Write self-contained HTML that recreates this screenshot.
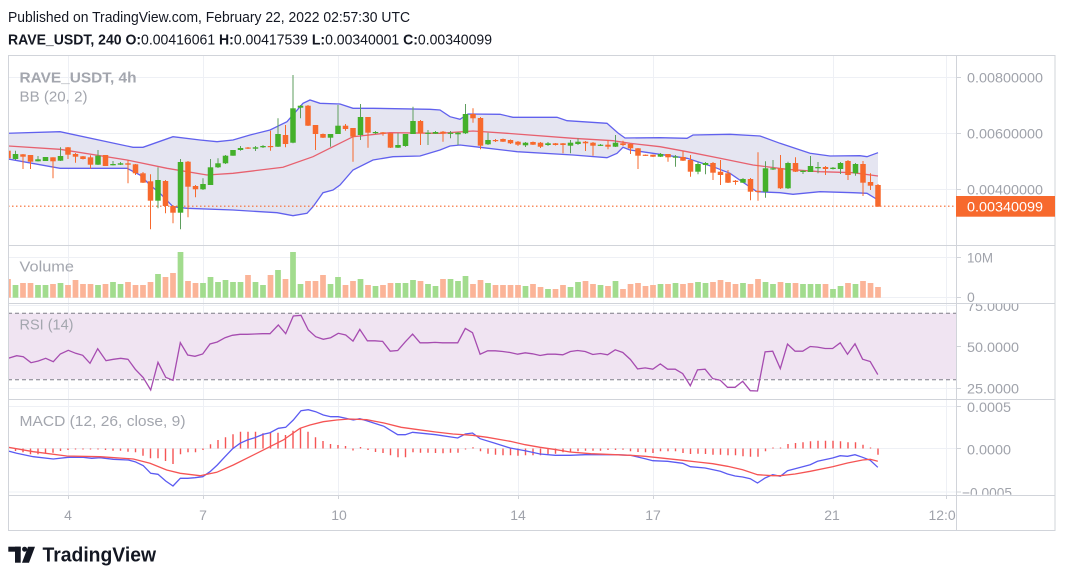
<!DOCTYPE html>
<html><head><meta charset="utf-8"><style>
html,body{margin:0;padding:0;background:#fff;}
svg{display:block;font-family:"Liberation Sans",sans-serif;}
.ax{font-size:14px;fill:#a0a3ab;}
.lg{font-size:15px;fill:#a3a6ae;}
</style></head><body>
<svg width="1065" height="578" viewBox="0 0 1065 578" xmlns="http://www.w3.org/2000/svg">
<defs>
<clipPath id="cm"><rect x="8.5" y="55.5" width="947.5" height="439.5"/></clipPath>
<clipPath id="cp"><rect x="957" y="55.5" width="98" height="189.5"/></clipPath>
<clipPath id="cv"><rect x="957" y="245.5" width="98" height="57.5"/></clipPath>
<clipPath id="cr"><rect x="957" y="303.8" width="98" height="95"/></clipPath>
<clipPath id="cd"><rect x="957" y="399.8" width="98" height="95"/></clipPath>
<clipPath id="ct"><rect x="8.5" y="495" width="947.5" height="36"/></clipPath>
</defs>
<rect width="1065" height="578" fill="#fff"/>
<text x="8" y="22" font-size="15" fill="#131722" textLength="402" lengthAdjust="spacingAndGlyphs">Published on TradingView.com, February 22, 2022 02:57:30 UTC</text>
<text x="8" y="44.5" font-size="15" fill="#131722" textLength="484" lengthAdjust="spacingAndGlyphs"><tspan font-weight="bold">RAVE_USDT, 240 O:</tspan>0.00416061 <tspan font-weight="bold">H:</tspan>0.00417539 <tspan font-weight="bold">L:</tspan>0.00340001 <tspan font-weight="bold">C:</tspan>0.00340099</text>

<g clip-path="url(#cm)">
<!-- grid -->
<g stroke="#eef0f5" stroke-width="1">
<path d="M68.5 55V495M203.5 55V495M338.5 55V495M518.5 55V495M653.5 55V495M833.5 55V495M946.5 55V495"/>
<path d="M8 77.5H956M8 133.5H956M8 189.5H956M8 257.5H956M8 297.5H956M8 305.5H956M8 346.5H956M8 388.5H956M8 406.5H956M8 448.5H956M8 492H956"/>
</g>
<!-- BB -->
<polygon fill="#e5e5f1" points="8,133.3 60,131.7 133,147.3 143,147.3 173,136.7 200,140 217,141.7 233,140 250,135 270,130 287,121.7 303,103.3 310,100 320,103.3 340,104 353,108.3 373,108.3 430,109.3 440,110 450,116.7 460,119.3 468,114 500,114.3 513,117.3 557,117.3 567,120.7 607,123.3 618,133 625,138 660,137.7 687,138.3 693,135 730,134.3 760,136 780,143.3 810,153.3 830,156 860,155.7 867,156.7 878,152.7 878,200 867,193.3 853,192.7 820,191.7 793,194.3 780,192.7 757,191.7 747,185 730,173.3 713,166.7 687,158.3 653,153.3 630,150 623,147.3 617,153.3 607,157.7 573,155 517,151.7 480,147.3 460,145 450,146 440,150 420,156 393,156.7 373,160 353,170 340,185 333,190 323,192.7 313,206.7 307,213.3 293,215.7 277,212.7 233,210 187,208.3 173,206.7 160,193.3 150,185 140,175 127,168.3 60,168.3 8,159"/>
<g fill="none" stroke-width="1.3">
<polyline stroke="#6161ee" points="8,133.3 60,131.7 133,147.3 143,147.3 173,136.7 200,140 217,141.7 233,140 250,135 270,130 287,121.7 303,103.3 310,100 320,103.3 340,104 353,108.3 373,108.3 430,109.3 440,110 450,116.7 460,119.3 468,114 500,114.3 513,117.3 557,117.3 567,120.7 607,123.3 618,133 625,138 660,137.7 687,138.3 693,135 730,134.3 760,136 780,143.3 810,153.3 830,156 860,155.7 867,156.7 878,152.7"/>
<polyline stroke="#6161ee" points="8,159 60,168.3 127,168.3 140,175 150,185 160,193.3 173,206.7 187,208.3 233,210 277,212.7 293,215.7 307,213.3 313,206.7 323,192.7 333,190 340,185 353,170 373,160 393,156.7 420,156 440,150 450,146 460,145 480,147.3 517,151.7 573,155 607,157.7 617,153.3 623,147.3 630,150 653,153.3 687,158.3 713,166.7 730,173.3 747,185 757,191.7 780,192.7 793,194.3 820,191.7 853,192.7 867,193.3 878,200"/>
<polyline stroke="#e7616f" points="8,146 60,149.3 127,160 167,168.3 207,175 233,173.3 283,167.3 313,156.7 333,146.7 353,136.7 390,132.7 440,133.3 473,131 507,133.3 573,138.3 613,140.7 630,143.3 660,146.7 687,151.7 720,158.3 753,165 787,169.3 820,171.7 853,172.7 878,176"/>
</g>
<!-- price line -->
<line x1="8" y1="206.2" x2="956" y2="206.2" stroke="#f7692d" stroke-width="1.2" stroke-dasharray="1.5,2.5"/>
<!-- wicks -->
<path fill="none" stroke="#5e9e5e" stroke-width="1" d="M15.5 150.7V160M38 156V161.5M45.5 157V161M60.5 147.3V161M98 150V165M113 161V165.5M120.5 162V165M158 167.3V208.3M180.5 159V229.3M203 178.3V190M210.5 159V185M218 158.3V168M225.5 155V164M233 150V155.7M240.5 146V150.7M255.5 146V151M263 145V148M278 118.3V147M293 75V143.3M300.5 105V118.3M330.5 134V146.7M338 105V134M360.5 104V140M375.5 131V134M398 133.3V148M405.5 134V146.7M413 106.7V134M428 130V145M435.5 131V134M450.5 131V138.3M458 132V145M465.5 104V134M488 132.7V145M525.5 142V147M548 142V146M570.5 140V153.3M578 138.3V145M600.5 144V146M615.5 135V147M660.5 153V157M675.5 155V166.7M698 161.7V174.3M705.5 162V174.3M743 178V183M765.5 161.3V197.7M773 160V170M788 161.7V189M803 170V174M810.5 156V172M818 162V173.3M833 167V169.5M840.5 162V174M855.5 163V175.7"/>
<path fill="none" stroke="#f7692d" stroke-width="1" d="M8 149V159M23 154V169M30.5 155V169M53 157.3V178.3M68 147V159M75.5 153V162.7M83 156V159.5M90.5 155.3V168.7M105.5 155V166M128 160V183.3M135.5 164V175M143 172V183M150.5 174.3V229.3M165.5 180V213.3M173 205V223.3M188 161V217.3M195.5 185V197.3M248 147V149M270.5 130.7V150.7M285.5 125V147.3M308 105V126M315.5 125V150M323 133.5V138M345.5 124V130.7M353 128V161.7M368 117V147.7M383 132V135.7M390.5 133V148M420.5 120V145M443 131V141.7M473 108.3V122.7M480.5 117V149.3M495.5 139V142M503 138.5V142M510.5 139.5V144M518 141V146M533 141.5V145M540.5 142V148M555.5 143V145.5M563 143V153.3M585.5 141V151M593 142V155.7M608 140V149.3M623 140.7V146M630.5 143.5V154M638 148V169M645.5 154.5V156M653 154.5V157M668 154V161.7M683 151V161M690.5 155V176.7M713 162V180M720.5 160V185M728 170V183M735.5 180V184.7M750.5 178V200.3M758 152.3V200.7M780.5 155V189M795.5 157.3V172M825.5 166V175M848 160V180M863 161V196M870.5 173.3V190M878 184V206.7"/>
<!-- green bodies -->
<g fill="#43b02a">
<rect x="12.75" y="154" width="5.5" height="5"/><rect x="35.25" y="159.3" width="5.5" height="2"/><rect x="42.75" y="157" width="5.5" height="4"/><rect x="57.75" y="156" width="5.5" height="4.7"/><rect x="95.25" y="155.7" width="5.5" height="9"/><rect x="110.25" y="164" width="5.5" height="1.3"/><rect x="117.75" y="163.3" width="5.5" height="1.4"/><rect x="155.25" y="180" width="5.5" height="20.7"/><rect x="177.75" y="162" width="5.5" height="50.7"/><rect x="200.25" y="184" width="5.5" height="5.3"/><rect x="207.75" y="167.3" width="5.5" height="17.7"/><rect x="215.25" y="163.3" width="5.5" height="4"/><rect x="222.75" y="155.7" width="5.5" height="7.6"/><rect x="230.25" y="150" width="5.5" height="5.7"/><rect x="237.75" y="148" width="5.5" height="2"/><rect x="252.75" y="147.3" width="5.5" height="1.4"/><rect x="260.25" y="146" width="5.5" height="1.3"/><rect x="275.25" y="134" width="5.5" height="12.7"/><rect x="290.25" y="108.3" width="5.5" height="34.4"/><rect x="297.75" y="105.7" width="5.5" height="2"/><rect x="327.75" y="134" width="5.5" height="3.7"/><rect x="335.25" y="125.7" width="5.5" height="8.3"/><rect x="357.75" y="117" width="5.5" height="18"/><rect x="372.75" y="132" width="5.5" height="1.2"/><rect x="395.25" y="145" width="5.5" height="2.7"/><rect x="402.75" y="134" width="5.5" height="12"/><rect x="410.25" y="121" width="5.5" height="13"/><rect x="425.25" y="132.7" width="5.5" height="1.2"/><rect x="432.75" y="132" width="5.5" height="1.7"/><rect x="447.75" y="132.7" width="5.5" height="1.2"/><rect x="455.25" y="132.7" width="5.5" height="1.6"/><rect x="462.75" y="114" width="5.5" height="19.3"/><rect x="485.25" y="140" width="5.5" height="4.3"/><rect x="522.75" y="142.7" width="5.5" height="2.6"/><rect x="545.25" y="143.3" width="5.5" height="1.7"/><rect x="567.75" y="142.7" width="5.5" height="3"/><rect x="575.25" y="141.7" width="5.5" height="2.3"/><rect x="597.75" y="144.7" width="5.5" height="1.2"/><rect x="612.75" y="142.7" width="5.5" height="4"/><rect x="657.75" y="154" width="5.5" height="2.7"/><rect x="672.75" y="156.5" width="5.5" height="1.2"/><rect x="695.25" y="164" width="5.5" height="7.7"/><rect x="702.75" y="163" width="5.5" height="2"/><rect x="740.25" y="179" width="5.5" height="3.7"/><rect x="762.75" y="168.3" width="5.5" height="23.4"/><rect x="770.25" y="168.3" width="5.5" height="1.2"/><rect x="785.25" y="163" width="5.5" height="25.3"/><rect x="800.25" y="170.7" width="5.5" height="1.3"/><rect x="807.75" y="166" width="5.5" height="6"/><rect x="815.25" y="167" width="5.5" height="1.3"/><rect x="830.25" y="167.7" width="5.5" height="1.3"/><rect x="837.75" y="163" width="5.5" height="6"/><rect x="852.75" y="164" width="5.5" height="9.3"/>
</g>
<g fill="#f7692d">
<rect x="5.25" y="150.7" width="5.5" height="7.6"/><rect x="20.25" y="154.3" width="5.5" height="2.4"/><rect x="27.75" y="155" width="5.5" height="6.7"/><rect x="50.25" y="157.3" width="5.5" height="4"/><rect x="65.25" y="147.3" width="5.5" height="7.4"/><rect x="72.75" y="154" width="5.5" height="2.7"/><rect x="80.25" y="156.3" width="5.5" height="2.7"/><rect x="87.75" y="157.3" width="5.5" height="7.4"/><rect x="102.75" y="155" width="5.5" height="11"/><rect x="125.25" y="163.3" width="5.5" height="1.4"/><rect x="132.75" y="164.3" width="5.5" height="9"/><rect x="140.25" y="173.3" width="5.5" height="9.4"/><rect x="147.75" y="181.3" width="5.5" height="19.4"/><rect x="162.75" y="181" width="5.5" height="25"/><rect x="170.25" y="206" width="5.5" height="6.7"/><rect x="185.25" y="161.7" width="5.5" height="25"/><rect x="192.75" y="186" width="5.5" height="3.3"/><rect x="245.25" y="147.5" width="5.5" height="1.2"/><rect x="267.75" y="146" width="5.5" height="1.2"/><rect x="282.75" y="135" width="5.5" height="9"/><rect x="305.25" y="105.7" width="5.5" height="20"/><rect x="312.75" y="125" width="5.5" height="9"/><rect x="320.25" y="134" width="5.5" height="3.7"/><rect x="342.75" y="125.7" width="5.5" height="3.3"/><rect x="350.25" y="128" width="5.5" height="8.7"/><rect x="365.25" y="117" width="5.5" height="15.7"/><rect x="380.25" y="132.3" width="5.5" height="1.4"/><rect x="387.75" y="133.3" width="5.5" height="14.4"/><rect x="417.75" y="121" width="5.5" height="12.3"/><rect x="440.25" y="131.7" width="5.5" height="2"/><rect x="470.25" y="114" width="5.5" height="4.3"/><rect x="477.75" y="118" width="5.5" height="27.7"/><rect x="492.75" y="140" width="5.5" height="1.2"/><rect x="500.25" y="139" width="5.5" height="2.7"/><rect x="507.75" y="140" width="5.5" height="3.3"/><rect x="515.25" y="141.7" width="5.5" height="3"/><rect x="530.25" y="142" width="5.5" height="2.7"/><rect x="537.75" y="142.7" width="5.5" height="4"/><rect x="552.75" y="143.3" width="5.5" height="1.7"/><rect x="560.25" y="143.3" width="5.5" height="1.7"/><rect x="582.75" y="141.7" width="5.5" height="1.6"/><rect x="590.25" y="142.7" width="5.5" height="3"/><rect x="605.25" y="144.7" width="5.5" height="2"/><rect x="620.25" y="143.3" width="5.5" height="1.7"/><rect x="627.75" y="144" width="5.5" height="4.3"/><rect x="635.25" y="148.3" width="5.5" height="7.4"/><rect x="642.75" y="154.7" width="5.5" height="1.2"/><rect x="650.25" y="154.7" width="5.5" height="2"/><rect x="665.25" y="154" width="5.5" height="3.3"/><rect x="680.25" y="157" width="5.5" height="3.7"/><rect x="687.75" y="160" width="5.5" height="11.7"/><rect x="710.25" y="163" width="5.5" height="9.7"/><rect x="717.75" y="171.7" width="5.5" height="3.3"/><rect x="725.25" y="173.3" width="5.5" height="9.4"/><rect x="732.75" y="180.7" width="5.5" height="1.3"/><rect x="747.75" y="179" width="5.5" height="12.7"/><rect x="755.25" y="190.8" width="5.5" height="1.2"/><rect x="777.75" y="168.3" width="5.5" height="20"/><rect x="792.75" y="163" width="5.5" height="8.7"/><rect x="822.75" y="167" width="5.5" height="2"/><rect x="845.25" y="161" width="5.5" height="14"/><rect x="860.25" y="164" width="5.5" height="18.7"/><rect x="867.75" y="182" width="5.5" height="3.7"/><rect x="875.25" y="185" width="5.5" height="21.7"/>
</g>
<!-- volume -->
<g fill="#a2dc8e">
<rect x="12.65" y="285" width="5.7" height="12.7"/><rect x="35.15" y="285" width="5.7" height="12.7"/><rect x="42.65" y="285" width="5.7" height="12.7"/><rect x="57.65" y="283" width="5.7" height="14.7"/><rect x="95.15" y="285" width="5.7" height="12.7"/><rect x="110.15" y="282" width="5.7" height="15.7"/><rect x="117.65" y="284" width="5.7" height="13.7"/><rect x="155.15" y="274" width="5.7" height="23.7"/><rect x="177.65" y="252" width="5.7" height="45.7"/><rect x="200.15" y="283" width="5.7" height="14.7"/><rect x="207.65" y="277" width="5.7" height="20.7"/><rect x="215.15" y="282" width="5.7" height="15.7"/><rect x="222.65" y="280" width="5.7" height="17.7"/><rect x="230.15" y="282" width="5.7" height="15.7"/><rect x="237.65" y="282" width="5.7" height="15.7"/><rect x="252.65" y="282" width="5.7" height="15.7"/><rect x="260.15" y="285" width="5.7" height="12.7"/><rect x="275.15" y="270" width="5.7" height="27.7"/><rect x="290.15" y="252" width="5.7" height="45.7"/><rect x="297.65" y="284" width="5.7" height="13.7"/><rect x="327.65" y="284" width="5.7" height="13.7"/><rect x="335.15" y="277" width="5.7" height="20.7"/><rect x="357.65" y="279" width="5.7" height="18.7"/><rect x="372.65" y="286" width="5.7" height="11.7"/><rect x="395.15" y="283" width="5.7" height="14.7"/><rect x="402.65" y="283" width="5.7" height="14.7"/><rect x="410.15" y="280" width="5.7" height="17.7"/><rect x="425.15" y="284" width="5.7" height="13.7"/><rect x="432.65" y="286" width="5.7" height="11.7"/><rect x="447.65" y="279" width="5.7" height="18.7"/><rect x="455.15" y="281" width="5.7" height="16.7"/><rect x="462.65" y="276" width="5.7" height="21.7"/><rect x="485.15" y="283" width="5.7" height="14.7"/><rect x="522.65" y="286" width="5.7" height="11.7"/><rect x="545.15" y="289" width="5.7" height="8.7"/><rect x="567.65" y="287" width="5.7" height="10.7"/><rect x="575.15" y="282" width="5.7" height="15.7"/><rect x="597.65" y="285" width="5.7" height="12.7"/><rect x="612.65" y="281" width="5.7" height="16.7"/><rect x="657.65" y="284" width="5.7" height="13.7"/><rect x="672.65" y="283" width="5.7" height="14.7"/><rect x="695.15" y="282" width="5.7" height="15.7"/><rect x="702.65" y="283" width="5.7" height="14.7"/><rect x="740.15" y="283" width="5.7" height="14.7"/><rect x="762.65" y="282" width="5.7" height="15.7"/><rect x="770.15" y="284" width="5.7" height="13.7"/><rect x="785.15" y="283" width="5.7" height="14.7"/><rect x="800.15" y="284" width="5.7" height="13.7"/><rect x="807.65" y="284" width="5.7" height="13.7"/><rect x="815.15" y="284" width="5.7" height="13.7"/><rect x="830.15" y="289" width="5.7" height="8.7"/><rect x="837.65" y="286" width="5.7" height="11.7"/><rect x="852.65" y="284" width="5.7" height="13.7"/>
</g>
<g fill="#fbb498">
<rect x="5.15" y="279" width="5.7" height="18.7"/><rect x="20.15" y="283" width="5.7" height="14.7"/><rect x="27.65" y="283" width="5.7" height="14.7"/><rect x="50.15" y="284" width="5.7" height="13.7"/><rect x="65.15" y="285" width="5.7" height="12.7"/><rect x="72.65" y="280" width="5.7" height="17.7"/><rect x="80.15" y="284" width="5.7" height="13.7"/><rect x="87.65" y="284" width="5.7" height="13.7"/><rect x="102.65" y="284" width="5.7" height="13.7"/><rect x="125.15" y="282" width="5.7" height="15.7"/><rect x="132.65" y="285" width="5.7" height="12.7"/><rect x="140.15" y="285" width="5.7" height="12.7"/><rect x="147.65" y="282" width="5.7" height="15.7"/><rect x="162.65" y="277" width="5.7" height="20.7"/><rect x="170.15" y="273" width="5.7" height="24.7"/><rect x="185.15" y="281" width="5.7" height="16.7"/><rect x="192.65" y="283" width="5.7" height="14.7"/><rect x="245.15" y="275" width="5.7" height="22.7"/><rect x="267.65" y="275" width="5.7" height="22.7"/><rect x="282.65" y="279" width="5.7" height="18.7"/><rect x="305.15" y="281" width="5.7" height="16.7"/><rect x="312.65" y="281" width="5.7" height="16.7"/><rect x="320.15" y="275" width="5.7" height="22.7"/><rect x="342.65" y="285" width="5.7" height="12.7"/><rect x="350.15" y="281" width="5.7" height="16.7"/><rect x="365.15" y="285" width="5.7" height="12.7"/><rect x="380.15" y="285" width="5.7" height="12.7"/><rect x="387.65" y="283" width="5.7" height="14.7"/><rect x="417.65" y="281" width="5.7" height="16.7"/><rect x="440.15" y="279" width="5.7" height="18.7"/><rect x="470.15" y="284" width="5.7" height="13.7"/><rect x="477.65" y="280" width="5.7" height="17.7"/><rect x="492.65" y="285" width="5.7" height="12.7"/><rect x="500.15" y="285" width="5.7" height="12.7"/><rect x="507.65" y="285" width="5.7" height="12.7"/><rect x="515.15" y="285" width="5.7" height="12.7"/><rect x="530.15" y="284" width="5.7" height="13.7"/><rect x="537.65" y="287" width="5.7" height="10.7"/><rect x="552.65" y="289" width="5.7" height="8.7"/><rect x="560.15" y="285" width="5.7" height="12.7"/><rect x="582.65" y="281" width="5.7" height="16.7"/><rect x="590.15" y="284" width="5.7" height="13.7"/><rect x="605.15" y="286" width="5.7" height="11.7"/><rect x="620.15" y="289" width="5.7" height="8.7"/><rect x="627.65" y="284" width="5.7" height="13.7"/><rect x="635.15" y="283" width="5.7" height="14.7"/><rect x="642.65" y="286" width="5.7" height="11.7"/><rect x="650.15" y="285" width="5.7" height="12.7"/><rect x="665.15" y="284" width="5.7" height="13.7"/><rect x="680.15" y="284" width="5.7" height="13.7"/><rect x="687.65" y="283" width="5.7" height="14.7"/><rect x="710.15" y="282" width="5.7" height="15.7"/><rect x="717.65" y="280" width="5.7" height="17.7"/><rect x="725.15" y="282" width="5.7" height="15.7"/><rect x="732.65" y="284" width="5.7" height="13.7"/><rect x="747.65" y="284" width="5.7" height="13.7"/><rect x="755.15" y="279" width="5.7" height="18.7"/><rect x="777.65" y="282" width="5.7" height="15.7"/><rect x="792.65" y="283" width="5.7" height="14.7"/><rect x="822.65" y="284" width="5.7" height="13.7"/><rect x="845.15" y="283" width="5.7" height="14.7"/><rect x="860.15" y="281" width="5.7" height="16.7"/><rect x="867.65" y="283" width="5.7" height="14.7"/><rect x="875.15" y="287" width="5.7" height="10.7"/>
</g>
<!-- RSI -->
<rect x="8" y="313.3" width="948" height="66" fill="#f0e4f2"/>
<path d="M8 313.3H956M8 379.8H956" stroke="#7f7f88" stroke-width="1" stroke-dasharray="4,3" fill="none"/>
<polyline fill="none" stroke="#a64cb0" stroke-width="1.3" points="8.3,358.3 16.7,355.7 23.3,356.7 31,362.7 38.3,361 45.7,358.3 53.3,361.7 60.3,354 68.3,350.3 75.7,353.3 82.7,355.3 90,363.3 97.7,348.7 106,360.7 113.3,359.3 120.7,358.3 128,359.3 135.3,369.3 143.3,377.7 150.7,390 158,362.3 165.7,377.3 173,380.3 180.3,342.7 187.7,355 195,356.3 202.7,354 210,344 217.3,342 225,337.7 232.3,335.3 240,334.3 247.3,334.3 254.7,334 262.3,333.7 270,333.7 278.3,325 285.7,333.7 293.3,316 301,315.3 308.3,330 315.7,336.7 323.3,339.3 330.7,337.7 338.3,333.3 345.7,335 353,341.1 359.8,329.4 367.4,340.8 375,340.8 382.6,341.4 390.2,351.2 397.7,350.5 405.3,341.8 412.6,334.1 420.1,342.8 427.7,342.8 435,342.4 442.5,342.8 450.1,342.8 457.7,342.8 465.3,328.4 472.5,332.7 480.1,354.2 487.7,350.8 495.3,350.8 502.8,351.5 510.1,352.5 517.7,354.2 525.2,352.8 532.5,353.8 540.1,355.5 547.6,354.2 555.2,354.2 562.8,354.8 570.4,351.5 577.6,350.5 585.2,351.5 592.8,354.5 600.4,353.5 607.6,354.8 615.2,349.8 622.8,352.5 630.4,359.5 637.6,368.9 645.2,367.9 652.8,369.2 660.3,363.9 667.6,369.2 675.2,369.2 682.7,373.6 690.3,385.7 697.5,369.9 705.1,369.2 712.7,378.6 720.3,380.3 727.5,387.3 735.1,387.3 742.7,381.3 750.3,390.7 757.5,391 765.1,351.8 772.7,351.2 780.3,368.6 787.5,344.1 795.1,351.2 802.7,351.2 810.2,346.5 817.5,347.1 825.1,348.5 832.6,348.5 840.2,342.8 847.5,354.2 855,343.8 862.6,359.2 870.2,361.5 877.8,374.6"/>
<!-- MACD -->
<path fill="none" stroke="#f55454" stroke-width="1.4" d="M15.5 448.5V451M23 448.5V452.3M30.5 448.5V454.3M38 448.5V454.3M45.5 448.5V453.3M53 448.5V452.7M60.5 448.5V451M68 448.5V450M75.5 448.5V449.5M83 448.5V449.5M90.5 448.5V449.5M98 448.5V449.5M105.5 448.5V450M113 448.5V450.7M120.5 448.5V450.7M128 448.5V451.7M135.5 448.5V452.3M143 448.5V455.7M150.5 448.5V458.3M158 448.5V458.3M165.5 448.5V461M173 448.5V464M180.5 448.5V454.3M188 448.5V452.3M195.5 448.5V452.3M203 448.5V450M210.5 448.5V444.3M218 448.5V440M225.5 448.5V437.3M233 448.5V434.3M240.5 448.5V431.7M248 448.5V431.7M255.5 448.5V431.7M263 448.5V433.3M270.5 448.5V432.7M278 448.5V432.7M285.5 448.5V435M293 448.5V430.7M300.5 448.5V428.3M308 448.5V431.7M315.5 448.5V437.3M323 448.5V441M330.5 448.5V444M338 448.5V445M345.5 448.5V446M353 448.5V450.5M360.5 448.5V447M368 448.5V450M375.5 448.5V452M383 448.5V453M390.5 448.5V455.3M398 448.5V457.3M405.5 448.5V457.3M413 448.5V452.3M420.5 448.5V452.7M428 448.5V452.7M435.5 448.5V453M443 448.5V453.3M450.5 448.5V452.7M458 448.5V452.7M465.5 448.5V449.5M473 448.5V447.3M480.5 448.5V451.3M488 448.5V453.7M495.5 448.5V454.7M503 448.5V455.3M510.5 448.5V455.3M518 448.5V455.7M525.5 448.5V455.3M533 448.5V455.3M540.5 448.5V455.3M548 448.5V454M555.5 448.5V453.7M563 448.5V452.3M570.5 448.5V452M578 448.5V451.3M585.5 448.5V450.7M593 448.5V450.7M600.5 448.5V450.7M608 448.5V450M615.5 448.5V450M623 448.5V449.7M630.5 448.5V451.3M638 448.5V452M645.5 448.5V452.3M653 448.5V453M660.5 448.5V451.3M668 448.5V451.3M675.5 448.5V451.3M683 448.5V453M690.5 448.5V454M698 448.5V453.7M705.5 448.5V454M713 448.5V454.7M720.5 448.5V454.7M728 448.5V455.3M735.5 448.5V455.3M743 448.5V456.3M750.5 448.5V456.7M758 448.5V456.7M765.5 448.5V451.3M773 448.5V447.5M780.5 448.5V447.5M788 448.5V444M795.5 448.5V443M803 448.5V442.3M810.5 448.5V441.3M818 448.5V440.7M825.5 448.5V440.7M833 448.5V440.7M840.5 448.5V441.3M848 448.5V442.3M855.5 448.5V442.3M863 448.5V444.7M870.5 448.5V447.5M878 448.5V454.7"/>
<polyline fill="none" stroke="#5b5bf2" stroke-width="1.3" points="8.3,451 16.7,453.3 33.3,456.7 53.3,459 68.3,457.3 83.3,457.3 91.7,458.3 100,457.7 113.3,459.3 128.3,460 135,461.7 143.3,465.7 150.7,473.3 158,474.3 165.7,481 173,486 180.3,478.3 187.7,478.3 195,477.7 202.7,476.7 210,471.7 217.3,465 225,456.7 232.3,449 240,443.3 247.3,440 254.7,437.7 263.3,434.3 270,432.7 278.3,428.3 285.7,427.3 293.3,420 301,410.7 308.3,409.7 315.7,411.7 323.3,415 330.7,416.7 338.3,416.7 345.7,418.3 353.3,420 359.8,418.7 366.7,420.7 384,426.3 397.7,434.7 405.3,434.7 412.6,432.3 435.7,434.7 457.7,438 465.3,434 472.5,433 480.1,438.7 494.2,443 510.1,448 525.2,450.7 540.1,454 555.2,455.3 570,455.3 585.2,454.7 600.4,454.7 615.2,454.7 630.4,455.3 645.2,458.7 652.8,460.7 667.6,461.3 682.7,463.3 690.3,466.7 705.1,468 720.3,471.3 727.5,474 735.1,476 742.7,477 750.3,478.7 757.5,483 765.1,478 772.7,474.7 780.3,476.3 787.5,470.7 795.1,468.7 810.2,464.7 817.5,461.3 832.6,458 840.2,455.7 847.5,456.3 855,454.7 862.6,457.3 870.2,460.3 877.8,467.3"/>
<polyline fill="none" stroke="#f55454" stroke-width="1.3" points="8.3,447.3 33.3,451.7 66.7,456 100,456.7 133.3,459 150,463.3 166.7,470 180.3,473.3 200,475.7 216.7,472.3 233.3,465 250,456.7 266.7,448.3 283.3,440 300,428.3 310,425 323.3,421.7 336.7,420 349.5,419 366.7,419.7 384,423 401.2,427.3 418.4,429.7 435.7,432 452.9,434 472.5,435.3 487.3,437.3 510.1,441.3 525.2,444.7 540.1,447.3 556.3,449.7 570,452 590.7,453.7 615.2,454.7 630.4,455.3 645.2,456.3 667.6,458.7 682.7,460.3 697.5,462 712.7,463.7 727.5,466.3 742.7,469.7 757.5,474.7 772.7,475.7 780.3,475.7 795.1,474 810.2,471.3 832.6,466.7 847.5,463 862.6,460 870.2,459.3 877.8,461.3"/>
</g>

<!-- pane legends -->
<text class="lg" x="19.5" y="82.5" font-weight="bold" textLength="117" lengthAdjust="spacingAndGlyphs">RAVE_USDT, 4h</text>
<text class="lg" x="19.5" y="101.5" textLength="68" lengthAdjust="spacingAndGlyphs">BB (20, 2)</text>
<text class="lg" x="19.5" y="271.5" textLength="54.5" lengthAdjust="spacingAndGlyphs">Volume</text>
<text class="lg" x="19.5" y="329.5" textLength="54" lengthAdjust="spacingAndGlyphs">RSI (14)</text>
<text class="lg" x="19.5" y="426" textLength="166" lengthAdjust="spacingAndGlyphs">MACD (12, 26, close, 9)</text>

<!-- frame & separators -->
<g stroke="#d1d4da" stroke-width="1" fill="none">
<rect x="8.5" y="55.5" width="1046.5" height="475"/>
<path d="M956.5 55V531M8 245.5H1055M8 303.5H1055M8 399.5H1055M8 495.5H1055"/>
<path d="M956 77.5H961M956 133.5H961M956 189.5H961M956 257.5H961M956 297.5H961M956 346.5H961M956 388.5H961M956 406.5H961M956 448.5H961M956 492H961"/>
<path d="M68.5 495V499M203.5 495V499M338.5 495V499M518.5 495V499M653.5 495V499M833.5 495V499M946.5 495V499"/>
</g>

<!-- axis labels -->
<g class="ax" clip-path="url(#cp)">
<text x="967" y="82.5" textLength="76" lengthAdjust="spacingAndGlyphs">0.00800000</text>
<text x="967" y="138.5" textLength="76" lengthAdjust="spacingAndGlyphs">0.00600000</text>
<text x="967" y="194.5" textLength="76" lengthAdjust="spacingAndGlyphs">0.00400000</text>
</g>
<rect x="956" y="196" width="99" height="20.7" fill="#f7692d"/>
<text x="967" y="211.5" font-size="14" fill="#fff" textLength="76" lengthAdjust="spacingAndGlyphs">0.00340099</text>
<g class="ax" clip-path="url(#cv)">
<text x="967" y="262.5" textLength="26" lengthAdjust="spacingAndGlyphs">10M</text>
<text x="967" y="302">0</text>
</g>
<g class="ax" clip-path="url(#cr)">
<text x="967" y="311" textLength="52" lengthAdjust="spacingAndGlyphs">75.0000</text>
<text x="967" y="352" textLength="52" lengthAdjust="spacingAndGlyphs">50.0000</text>
<text x="967" y="393.5" textLength="52" lengthAdjust="spacingAndGlyphs">25.0000</text>
</g>
<g class="ax" clip-path="url(#cd)">
<text x="967" y="412" textLength="44" lengthAdjust="spacingAndGlyphs">0.0005</text>
<text x="967" y="454.5" textLength="44" lengthAdjust="spacingAndGlyphs">0.0000</text>
<text x="962" y="497.5" textLength="50" lengthAdjust="spacingAndGlyphs">−0.0005</text>
</g>
<g class="ax" clip-path="url(#ct)" text-anchor="middle">
<text x="68" y="520">4</text>
<text x="203" y="520">7</text>
<text x="339" y="520">10</text>
<text x="518" y="520">14</text>
<text x="653" y="520">17</text>
<text x="832" y="520">21</text>
<text x="946" y="520">12:00</text>
</g>

<!-- logo -->
<g fill="#131722">
<rect x="8.3" y="546.7" width="12.4" height="5"/>
<rect x="15" y="546.7" width="5.7" height="16"/>
<circle cx="24.6" cy="549.2" r="2.5"/>
<polygon points="28,546.7 35,546.7 29,562.7 22,562.7"/>
</g>
<text x="42.5" y="561.5" font-size="20" font-weight="bold" fill="#131722" textLength="113.5" lengthAdjust="spacingAndGlyphs">TradingView</text>
</svg>
</body></html>
